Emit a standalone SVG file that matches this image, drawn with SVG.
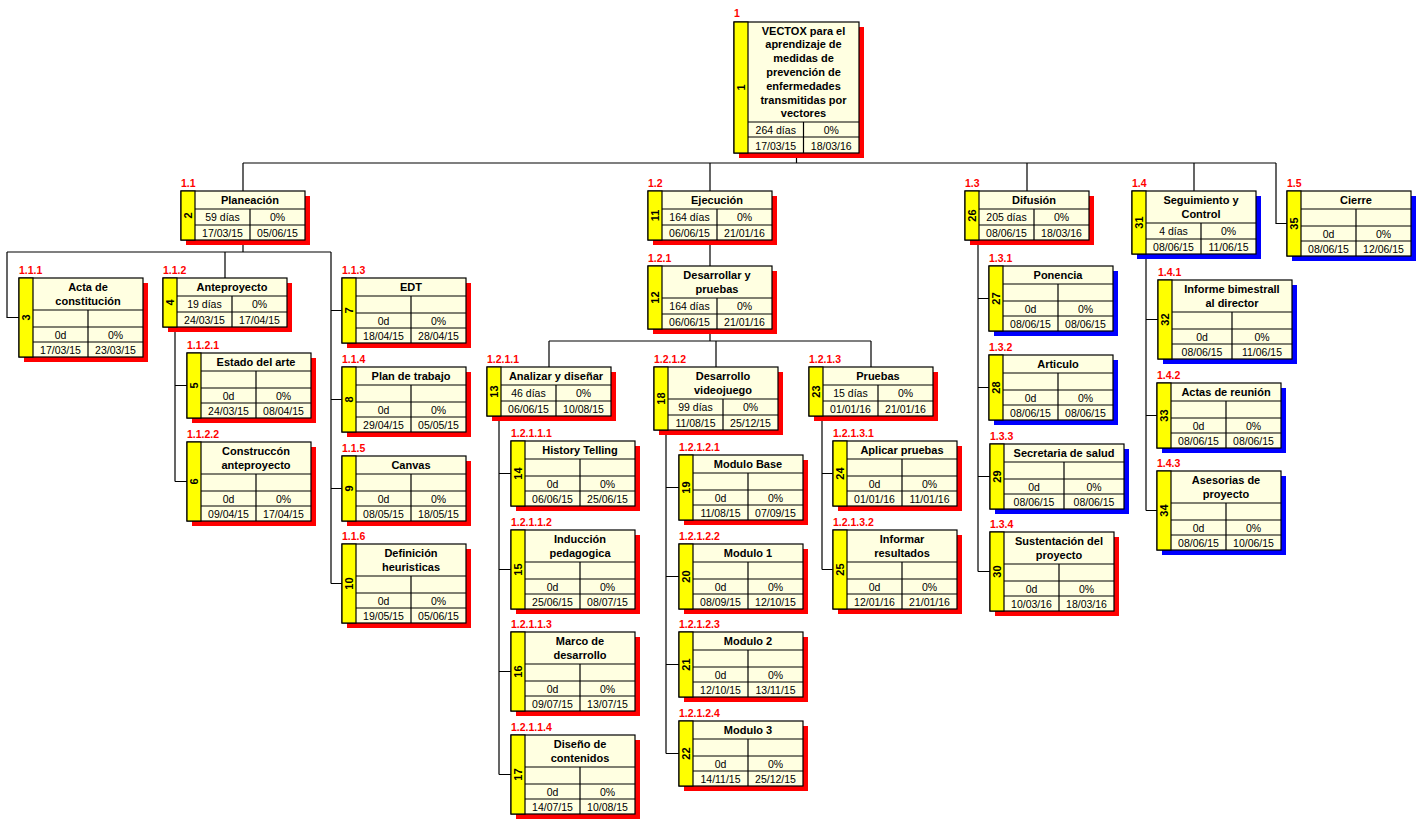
<svg xmlns="http://www.w3.org/2000/svg" xmlns:xlink="http://www.w3.org/1999/xlink" width="1422" height="825" viewBox="0 0 1422 825">
<style>
.sr{fill:#ff0000}
.sb{fill:#0000ff}
.bx{fill:#ffffe1;stroke:#000;stroke-width:1.2}
.yb{fill:#ffff00;stroke:#000;stroke-width:1.2}
.ln{fill:none;stroke:#000;stroke-width:1.2}
.cn{fill:none;stroke:#000;stroke-width:1.2}
.t{font-family:"Liberation Sans",Arial,sans-serif;font-size:11px;font-weight:bold;text-anchor:middle;fill:#000}
.d{font-family:"Liberation Sans",Arial,sans-serif;font-size:10.5px;text-anchor:middle;fill:#000}
.lb{font-family:"Liberation Sans",Arial,sans-serif;font-size:10.5px;font-weight:bold;fill:#ff0000}
.n{font-family:"Liberation Sans",Arial,sans-serif;font-size:11px;font-weight:bold;text-anchor:middle;dominant-baseline:central;fill:#000}
</style>
<defs>
<g id="fL1r"><rect class="sr" x="5" y="5" width="124" height="65"/><rect class="bx" width="124" height="65"/><rect class="yb" width="14" height="65"/><path class="ln" d="M14 18H124M14 35H124M14 50H124M69 18V65"/></g>
<g id="fL1b"><rect class="sb" x="5" y="5" width="124" height="65"/><rect class="bx" width="124" height="65"/><rect class="yb" width="14" height="65"/><path class="ln" d="M14 18H124M14 35H124M14 50H124M69 18V65"/></g>
<g id="fL2r"><rect class="sr" x="5" y="5" width="124" height="79"/><rect class="bx" width="124" height="79"/><rect class="yb" width="14" height="79"/><path class="ln" d="M14 32H124M14 49H124M14 64H124M69 32V79"/></g>
<g id="fL2b"><rect class="sb" x="5" y="5" width="124" height="79"/><rect class="bx" width="124" height="79"/><rect class="yb" width="14" height="79"/><path class="ln" d="M14 32H124M14 49H124M14 64H124M69 32V79"/></g>
<g id="fS1r"><rect class="sr" x="5" y="5" width="124" height="49"/><rect class="bx" width="124" height="49"/><rect class="yb" width="14" height="49"/><path class="ln" d="M14 18H124M14 34H124M69 18V49"/></g>
<g id="fS2r"><rect class="sr" x="5" y="5" width="124" height="63"/><rect class="bx" width="124" height="63"/><rect class="yb" width="14" height="63"/><path class="ln" d="M14 32H124M14 48H124M69 32V63"/></g>
<g id="fS2b"><rect class="sb" x="5" y="5" width="124" height="63"/><rect class="bx" width="124" height="63"/><rect class="yb" width="14" height="63"/><path class="ln" d="M14 32H124M14 48H124M69 32V63"/></g>
<g id="fL1bw"><rect class="sb" x="5" y="5" width="134" height="65"/><rect class="bx" width="134" height="65"/><rect class="yb" width="14" height="65"/><path class="ln" d="M14 18H134M14 35H134M14 50H134M74 18V65"/></g>
<g id="fL2bw"><rect class="sb" x="5" y="5" width="134" height="79"/><rect class="bx" width="134" height="79"/><rect class="yb" width="14" height="79"/><path class="ln" d="M14 32H134M14 49H134M14 64H134M74 32V79"/></g>
</defs>

<g id="connectors">
<path class="cn" d="M796.5 153V163M243 163H1276M243 163V191M710 163V191M1027 163V191M1194 163V191M1276 163V223.5H1287"/>
<path class="cn" d="M243 240V252M7 252H331M7 252V317.5H19M225 252V278M331 252V583.5M331 310.5H342M331 399.5H342M331 488.5H342M331 583.5H342"/>
<path class="cn" d="M175 327V481.5M175 385.5H187M175 481.5H187"/>
<path class="cn" d="M710 240V266M710 329V341M549 341H871M549 341V367M716 341V367M871 341V367"/>
<path class="cn" d="M499 416V774.5M499 473.5H511M499 569.5H511M499 671.5H511M499 774.5H511"/>
<path class="cn" d="M666 430V753.5M666 487.5H679M666 576.5H679M666 664.5H679M666 753.5H679"/>
<path class="cn" d="M822 416V569.5M822 473.5H833M822 569.5H833"/>
<path class="cn" d="M978 240V571.5M978 298.5H989M978 387.5H989M978 476.5H990M978 571.5H990"/>
<path class="cn" d="M1146 254V510.5M1146 319.5H1158M1146 415.5H1157M1146 510.5H1157"/>
</g>

<g id="n1" transform="translate(734,22)">
<rect class="sr" x="5" y="5" width="125" height="131"/><rect class="bx" width="125" height="131"/><rect class="yb" width="14" height="131"/><path class="ln" d="M14 100H125M14 115H125M69.5 100V131"/>
<text class="lb" y="-5">1</text>
<text class="n" transform="translate(7,65.5) rotate(-90)">1</text>
<text class="t" x="69.5" y="12.5">VECTOX para el</text>
<text class="t" x="69.5" y="26.3">aprendizaje de</text>
<text class="t" x="69.5" y="40.1">medidas de</text>
<text class="t" x="69.5" y="53.9">prevención de</text>
<text class="t" x="69.5" y="67.7">enfermedades</text>
<text class="t" x="69.5" y="81.5">transmitidas por</text>
<text class="t" x="69.5" y="95.3">vectores</text>
<text class="d" x="41.75" y="112">264 días</text><text class="d" x="97.25" y="112">0%</text>
<text class="d" x="41.75" y="127.5">17/03/15</text><text class="d" x="97.25" y="127.5">18/03/16</text>
</g>

<g id="n2" transform="translate(181,191)"><use xlink:href="#fS1r"/>
<text class="lb" y="-4">1.1</text><text class="n" transform="translate(7,24.5) rotate(-90)">2</text>
<text class="t" x="69" y="13">Planeación</text>
<text class="d" x="41.5" y="30">59 días</text><text class="d" x="96.5" y="30">0%</text>
<text class="d" x="41.5" y="45.5">17/03/15</text><text class="d" x="96.5" y="45.5">05/06/15</text></g>

<g id="n3" transform="translate(19,278)"><use xlink:href="#fL2r"/>
<text class="lb" y="-4">1.1.1</text><text class="n" transform="translate(7,39.5) rotate(-90)">3</text>
<text class="t" x="69" y="13">Acta de</text><text class="t" x="69" y="26.8">constitución</text>
<text class="d" x="41.5" y="60.5">0d</text><text class="d" x="96.5" y="60.5">0%</text>
<text class="d" x="41.5" y="75.5">17/03/15</text><text class="d" x="96.5" y="75.5">23/03/15</text></g>

<g id="n4" transform="translate(163,278)"><use xlink:href="#fS1r"/>
<text class="lb" y="-4">1.1.2</text><text class="n" transform="translate(7,24.5) rotate(-90)">4</text>
<text class="t" x="69" y="13">Anteproyecto</text>
<text class="d" x="41.5" y="30">19 días</text><text class="d" x="96.5" y="30">0%</text>
<text class="d" x="41.5" y="45.5">24/03/15</text><text class="d" x="96.5" y="45.5">17/04/15</text></g>

<g id="n5" transform="translate(187,353)"><use xlink:href="#fL1r"/>
<text class="lb" y="-4">1.1.2.1</text><text class="n" transform="translate(7,32.5) rotate(-90)">5</text>
<text class="t" x="69" y="13">Estado del arte</text>
<text class="d" x="41.5" y="46.5">0d</text><text class="d" x="96.5" y="46.5">0%</text>
<text class="d" x="41.5" y="61.5">24/03/15</text><text class="d" x="96.5" y="61.5">08/04/15</text></g>

<g id="n6" transform="translate(187,442)"><use xlink:href="#fL2r"/>
<text class="lb" y="-4">1.1.2.2</text><text class="n" transform="translate(7,39.5) rotate(-90)">6</text>
<text class="t" x="69" y="13">Construccón</text><text class="t" x="69" y="26.8">anteproyecto</text>
<text class="d" x="41.5" y="60.5">0d</text><text class="d" x="96.5" y="60.5">0%</text>
<text class="d" x="41.5" y="75.5">09/04/15</text><text class="d" x="96.5" y="75.5">17/04/15</text></g>

<g id="n7" transform="translate(342,278)"><use xlink:href="#fL1r"/>
<text class="lb" y="-4">1.1.3</text><text class="n" transform="translate(7,32.5) rotate(-90)">7</text>
<text class="t" x="69" y="13">EDT</text>
<text class="d" x="41.5" y="46.5">0d</text><text class="d" x="96.5" y="46.5">0%</text>
<text class="d" x="41.5" y="61.5">18/04/15</text><text class="d" x="96.5" y="61.5">28/04/15</text></g>

<g id="n8" transform="translate(342,367)"><use xlink:href="#fL1r"/>
<text class="lb" y="-4">1.1.4</text><text class="n" transform="translate(7,32.5) rotate(-90)">8</text>
<text class="t" x="69" y="13">Plan de trabajo</text>
<text class="d" x="41.5" y="46.5">0d</text><text class="d" x="96.5" y="46.5">0%</text>
<text class="d" x="41.5" y="61.5">29/04/15</text><text class="d" x="96.5" y="61.5">05/05/15</text></g>

<g id="n9" transform="translate(342,456)"><use xlink:href="#fL1r"/>
<text class="lb" y="-4">1.1.5</text><text class="n" transform="translate(7,32.5) rotate(-90)">9</text>
<text class="t" x="69" y="13">Canvas</text>
<text class="d" x="41.5" y="46.5">0d</text><text class="d" x="96.5" y="46.5">0%</text>
<text class="d" x="41.5" y="61.5">08/05/15</text><text class="d" x="96.5" y="61.5">18/05/15</text></g>

<g id="n10" transform="translate(342,544)"><use xlink:href="#fL2r"/>
<text class="lb" y="-4">1.1.6</text><text class="n" transform="translate(7,39.5) rotate(-90)">10</text>
<text class="t" x="69" y="13">Definición</text><text class="t" x="69" y="26.8">heuristicas</text>
<text class="d" x="41.5" y="60.5">0d</text><text class="d" x="96.5" y="60.5">0%</text>
<text class="d" x="41.5" y="75.5">19/05/15</text><text class="d" x="96.5" y="75.5">05/06/15</text></g>

<g id="n11" transform="translate(648,191)"><use xlink:href="#fS1r"/>
<text class="lb" y="-4">1.2</text><text class="n" transform="translate(7,24.5) rotate(-90)">11</text>
<text class="t" x="69" y="13">Ejecución</text>
<text class="d" x="41.5" y="30">164 días</text><text class="d" x="96.5" y="30">0%</text>
<text class="d" x="41.5" y="45.5">06/06/15</text><text class="d" x="96.5" y="45.5">21/01/16</text></g>

<g id="n12" transform="translate(648,266)"><use xlink:href="#fS2r"/>
<text class="lb" y="-4">1.2.1</text><text class="n" transform="translate(7,31.5) rotate(-90)">12</text>
<text class="t" x="69" y="13">Desarrollar y</text><text class="t" x="69" y="26.8">pruebas</text>
<text class="d" x="41.5" y="44">164 días</text><text class="d" x="96.5" y="44">0%</text>
<text class="d" x="41.5" y="59.5">06/06/15</text><text class="d" x="96.5" y="59.5">21/01/16</text></g>

<g id="n13" transform="translate(487,367)"><use xlink:href="#fS1r"/>
<text class="lb" y="-4">1.2.1.1</text><text class="n" transform="translate(7,24.5) rotate(-90)">13</text>
<text class="t" x="69" y="13">Analizar y diseñar</text>
<text class="d" x="41.5" y="30">46 días</text><text class="d" x="96.5" y="30">0%</text>
<text class="d" x="41.5" y="45.5">06/06/15</text><text class="d" x="96.5" y="45.5">10/08/15</text></g>

<g id="n14" transform="translate(511,441)"><use xlink:href="#fL1r"/>
<text class="lb" y="-4">1.2.1.1.1</text><text class="n" transform="translate(7,32.5) rotate(-90)">14</text>
<text class="t" x="69" y="13">History Telling</text>
<text class="d" x="41.5" y="46.5">0d</text><text class="d" x="96.5" y="46.5">0%</text>
<text class="d" x="41.5" y="61.5">06/06/15</text><text class="d" x="96.5" y="61.5">25/06/15</text></g>

<g id="n15" transform="translate(511,530)"><use xlink:href="#fL2r"/>
<text class="lb" y="-4">1.2.1.1.2</text><text class="n" transform="translate(7,39.5) rotate(-90)">15</text>
<text class="t" x="69" y="13">Inducción</text><text class="t" x="69" y="26.8">pedagogica</text>
<text class="d" x="41.5" y="60.5">0d</text><text class="d" x="96.5" y="60.5">0%</text>
<text class="d" x="41.5" y="75.5">25/06/15</text><text class="d" x="96.5" y="75.5">08/07/15</text></g>

<g id="n16" transform="translate(511,632)"><use xlink:href="#fL2r"/>
<text class="lb" y="-4">1.2.1.1.3</text><text class="n" transform="translate(7,39.5) rotate(-90)">16</text>
<text class="t" x="69" y="13">Marco de</text><text class="t" x="69" y="26.8">desarrollo</text>
<text class="d" x="41.5" y="60.5">0d</text><text class="d" x="96.5" y="60.5">0%</text>
<text class="d" x="41.5" y="75.5">09/07/15</text><text class="d" x="96.5" y="75.5">13/07/15</text></g>

<g id="n17" transform="translate(511,735)"><use xlink:href="#fL2r"/>
<text class="lb" y="-4">1.2.1.1.4</text><text class="n" transform="translate(7,39.5) rotate(-90)">17</text>
<text class="t" x="69" y="13">Diseño de</text><text class="t" x="69" y="26.8">contenidos</text>
<text class="d" x="41.5" y="60.5">0d</text><text class="d" x="96.5" y="60.5">0%</text>
<text class="d" x="41.5" y="75.5">14/07/15</text><text class="d" x="96.5" y="75.5">10/08/15</text></g>

<g id="n18" transform="translate(654,367)"><use xlink:href="#fS2r"/>
<text class="lb" y="-4">1.2.1.2</text><text class="n" transform="translate(7,31.5) rotate(-90)">18</text>
<text class="t" x="69" y="13">Desarrollo</text><text class="t" x="69" y="26.8">videojuego</text>
<text class="d" x="41.5" y="44">99 días</text><text class="d" x="96.5" y="44">0%</text>
<text class="d" x="41.5" y="59.5">11/08/15</text><text class="d" x="96.5" y="59.5">25/12/15</text></g>

<g id="n19" transform="translate(679,455)"><use xlink:href="#fL1r"/>
<text class="lb" y="-4">1.2.1.2.1</text><text class="n" transform="translate(7,32.5) rotate(-90)">19</text>
<text class="t" x="69" y="13">Modulo Base</text>
<text class="d" x="41.5" y="46.5">0d</text><text class="d" x="96.5" y="46.5">0%</text>
<text class="d" x="41.5" y="61.5">11/08/15</text><text class="d" x="96.5" y="61.5">07/09/15</text></g>

<g id="n20" transform="translate(679,544)"><use xlink:href="#fL1r"/>
<text class="lb" y="-4">1.2.1.2.2</text><text class="n" transform="translate(7,32.5) rotate(-90)">20</text>
<text class="t" x="69" y="13">Modulo 1</text>
<text class="d" x="41.5" y="46.5">0d</text><text class="d" x="96.5" y="46.5">0%</text>
<text class="d" x="41.5" y="61.5">08/09/15</text><text class="d" x="96.5" y="61.5">12/10/15</text></g>

<g id="n21" transform="translate(679,632)"><use xlink:href="#fL1r"/>
<text class="lb" y="-4">1.2.1.2.3</text><text class="n" transform="translate(7,32.5) rotate(-90)">21</text>
<text class="t" x="69" y="13">Modulo 2</text>
<text class="d" x="41.5" y="46.5">0d</text><text class="d" x="96.5" y="46.5">0%</text>
<text class="d" x="41.5" y="61.5">12/10/15</text><text class="d" x="96.5" y="61.5">13/11/15</text></g>

<g id="n22" transform="translate(679,721)"><use xlink:href="#fL1r"/>
<text class="lb" y="-4">1.2.1.2.4</text><text class="n" transform="translate(7,32.5) rotate(-90)">22</text>
<text class="t" x="69" y="13">Modulo 3</text>
<text class="d" x="41.5" y="46.5">0d</text><text class="d" x="96.5" y="46.5">0%</text>
<text class="d" x="41.5" y="61.5">14/11/15</text><text class="d" x="96.5" y="61.5">25/12/15</text></g>

<g id="n23" transform="translate(809,367)"><use xlink:href="#fS1r"/>
<text class="lb" y="-4">1.2.1.3</text><text class="n" transform="translate(7,24.5) rotate(-90)">23</text>
<text class="t" x="69" y="13">Pruebas</text>
<text class="d" x="41.5" y="30">15 días</text><text class="d" x="96.5" y="30">0%</text>
<text class="d" x="41.5" y="45.5">01/01/16</text><text class="d" x="96.5" y="45.5">21/01/16</text></g>

<g id="n24" transform="translate(833,441)"><use xlink:href="#fL1r"/>
<text class="lb" y="-4">1.2.1.3.1</text><text class="n" transform="translate(7,32.5) rotate(-90)">24</text>
<text class="t" x="69" y="13">Aplicar pruebas</text>
<text class="d" x="41.5" y="46.5">0d</text><text class="d" x="96.5" y="46.5">0%</text>
<text class="d" x="41.5" y="61.5">01/01/16</text><text class="d" x="96.5" y="61.5">11/01/16</text></g>

<g id="n25" transform="translate(833,530)"><use xlink:href="#fL2r"/>
<text class="lb" y="-4">1.2.1.3.2</text><text class="n" transform="translate(7,39.5) rotate(-90)">25</text>
<text class="t" x="69" y="13">Informar</text><text class="t" x="69" y="26.8">resultados</text>
<text class="d" x="41.5" y="60.5">0d</text><text class="d" x="96.5" y="60.5">0%</text>
<text class="d" x="41.5" y="75.5">12/01/16</text><text class="d" x="96.5" y="75.5">21/01/16</text></g>

<g id="n26" transform="translate(965,191)"><use xlink:href="#fS1r"/>
<text class="lb" y="-4">1.3</text><text class="n" transform="translate(7,24.5) rotate(-90)">26</text>
<text class="t" x="69" y="13">Difusión</text>
<text class="d" x="41.5" y="30">205 días</text><text class="d" x="96.5" y="30">0%</text>
<text class="d" x="41.5" y="45.5">08/06/15</text><text class="d" x="96.5" y="45.5">18/03/16</text></g>

<g id="n27" transform="translate(989,266)"><use xlink:href="#fL1b"/>
<text class="lb" y="-4">1.3.1</text><text class="n" transform="translate(7,32.5) rotate(-90)">27</text>
<text class="t" x="69" y="13">Ponencia</text>
<text class="d" x="41.5" y="46.5">0d</text><text class="d" x="96.5" y="46.5">0%</text>
<text class="d" x="41.5" y="61.5">08/06/15</text><text class="d" x="96.5" y="61.5">08/06/15</text></g>

<g id="n28" transform="translate(989,355)"><use xlink:href="#fL1b"/>
<text class="lb" y="-4">1.3.2</text><text class="n" transform="translate(7,32.5) rotate(-90)">28</text>
<text class="t" x="69" y="13">Articulo</text>
<text class="d" x="41.5" y="46.5">0d</text><text class="d" x="96.5" y="46.5">0%</text>
<text class="d" x="41.5" y="61.5">08/06/15</text><text class="d" x="96.5" y="61.5">08/06/15</text></g>

<g id="n29" transform="translate(990,444)"><use xlink:href="#fL1bw"/>
<text class="lb" y="-4">1.3.3</text><text class="n" transform="translate(7,32.5) rotate(-90)">29</text>
<text class="t" x="74" y="13">Secretaria de salud</text>
<text class="d" x="44" y="46.5">0d</text><text class="d" x="104" y="46.5">0%</text>
<text class="d" x="44" y="61.5">08/06/15</text><text class="d" x="104" y="61.5">08/06/15</text></g>

<g id="n30" transform="translate(990,532)"><use xlink:href="#fL2r"/>
<text class="lb" y="-4">1.3.4</text><text class="n" transform="translate(7,39.5) rotate(-90)">30</text>
<text class="t" x="69" y="13">Sustentación del</text><text class="t" x="69" y="26.8">proyecto</text>
<text class="d" x="41.5" y="60.5">0d</text><text class="d" x="96.5" y="60.5">0%</text>
<text class="d" x="41.5" y="75.5">10/03/16</text><text class="d" x="96.5" y="75.5">18/03/16</text></g>

<g id="n31" transform="translate(1132,191)"><use xlink:href="#fS2b"/>
<text class="lb" y="-4">1.4</text><text class="n" transform="translate(7,31.5) rotate(-90)">31</text>
<text class="t" x="69" y="13">Seguimiento y</text><text class="t" x="69" y="26.8">Control</text>
<text class="d" x="41.5" y="44">4 días</text><text class="d" x="96.5" y="44">0%</text>
<text class="d" x="41.5" y="59.5">08/06/15</text><text class="d" x="96.5" y="59.5">11/06/15</text></g>

<g id="n32" transform="translate(1158,280)"><use xlink:href="#fL2bw"/>
<text class="lb" y="-4">1.4.1</text><text class="n" transform="translate(7,39.5) rotate(-90)">32</text>
<text class="t" x="74" y="13">Informe bimestrall</text><text class="t" x="74" y="26.8">al director</text>
<text class="d" x="44" y="60.5">0d</text><text class="d" x="104" y="60.5">0%</text>
<text class="d" x="44" y="75.5">08/06/15</text><text class="d" x="104" y="75.5">11/06/15</text></g>

<g id="n33" transform="translate(1157,383)"><use xlink:href="#fL1b"/>
<text class="lb" y="-4">1.4.2</text><text class="n" transform="translate(7,32.5) rotate(-90)">33</text>
<text class="t" x="69" y="13">Actas de reunión</text>
<text class="d" x="41.5" y="46.5">0d</text><text class="d" x="96.5" y="46.5">0%</text>
<text class="d" x="41.5" y="61.5">08/06/15</text><text class="d" x="96.5" y="61.5">08/06/15</text></g>

<g id="n34" transform="translate(1157,471)"><use xlink:href="#fL2b"/>
<text class="lb" y="-4">1.4.3</text><text class="n" transform="translate(7,39.5) rotate(-90)">34</text>
<text class="t" x="69" y="13">Asesorias de</text><text class="t" x="69" y="26.8">proyecto</text>
<text class="d" x="41.5" y="60.5">0d</text><text class="d" x="96.5" y="60.5">0%</text>
<text class="d" x="41.5" y="75.5">08/06/15</text><text class="d" x="96.5" y="75.5">10/06/15</text></g>

<g id="n35" transform="translate(1287,191)"><use xlink:href="#fL1b"/>
<text class="lb" y="-4">1.5</text><text class="n" transform="translate(7,32.5) rotate(-90)">35</text>
<text class="t" x="69" y="13">Cierre</text>
<text class="d" x="41.5" y="46.5">0d</text><text class="d" x="96.5" y="46.5">0%</text>
<text class="d" x="41.5" y="61.5">08/06/15</text><text class="d" x="96.5" y="61.5">12/06/15</text></g>
</svg>
